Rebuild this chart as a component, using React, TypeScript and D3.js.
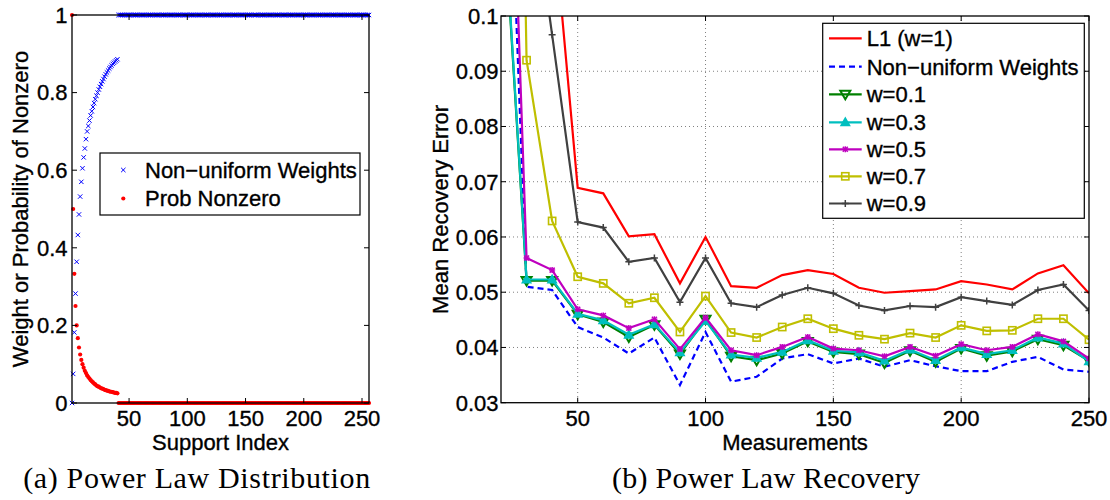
import React from "react";
import * as d3 from "d3";

// ---------- Panel (a): Power Law Distribution ----------
const supportIndexDomain = [1, 256];
const supportTicks = [50, 100, 150, 200, 250];
const probTicks = [0, 0.2, 0.4, 0.6, 0.8, 1];

const probNonzeroHead = [
  1, 0.5, 0.333, 0.25, 0.2, 0.167, 0.143, 0.125, 0.111, 0.1,
  0.091, 0.083, 0.077, 0.071, 0.067, 0.063, 0.059, 0.056, 0.053, 0.05,
  0.048, 0.045, 0.043, 0.042, 0.04, 0.038, 0.037, 0.036, 0.034, 0.033,
  0.032, 0.031, 0.03, 0.029, 0.029, 0.028, 0.027, 0.026, 0.026, 0.025,
];
const probNonzeroTail = [
  0,0,0,0,0,0,0,0, 0,0,0,0,0,0,0,0, 0,0,0,0,0,0,0,0,
  0,0,0,0,0,0,0,0, 0,0,0,0,0,0,0,0, 0,0,0,0,0,0,0,0,
  0,0,0,0,0,0,0,0, 0,0,0,0,0,0,0,0, 0,0,0,0,0,0,0,0,
  0,0,0,0,0,0,0,0, 0,0,0,0,0,0,0,0, 0,0,0,0,0,0,0,0,
  0,0,0,0,0,0,0,0, 0,0,0,0,0,0,0,0, 0,0,0,0,0,0,0,0,
  0,0,0,0,0,0,0,0, 0,0,0,0,0,0,0,0, 0,0,0,0,0,0,0,0,
  0,0,0,0,0,0,0,0, 0,0,0,0,0,0,0,0, 0,0,0,0,0,0,0,0,
  0,0,0,0,0,0,0,0, 0,0,0,0,0,0,0,0, 0,0,0,0,0,0,0,0,
  0,0,0,0,0,0,0,0, 0,0,0,0,0,0,0,0, 0,0,0,0,0,0,0,0,
];
const weightsHead = [
  0, 0.075, 0.182, 0.282, 0.364, 0.433, 0.486, 0.532, 0.57, 0.605,
  0.633, 0.656, 0.68, 0.7, 0.714, 0.728, 0.741, 0.752, 0.763, 0.773,
  0.783, 0.792, 0.8, 0.808, 0.815, 0.822, 0.829, 0.835, 0.841, 0.847,
  0.852, 0.857, 0.862, 0.866, 0.87, 0.874, 0.877, 0.88, 0.883, 0.886,
];
const weightsTail = [
  1,1,1,1,1,1,1,1, 1,1,1,1,1,1,1,1, 1,1,1,1,1,1,1,1,
  1,1,1,1,1,1,1,1, 1,1,1,1,1,1,1,1, 1,1,1,1,1,1,1,1,
  1,1,1,1,1,1,1,1, 1,1,1,1,1,1,1,1, 1,1,1,1,1,1,1,1,
  1,1,1,1,1,1,1,1, 1,1,1,1,1,1,1,1, 1,1,1,1,1,1,1,1,
  1,1,1,1,1,1,1,1, 1,1,1,1,1,1,1,1, 1,1,1,1,1,1,1,1,
  1,1,1,1,1,1,1,1, 1,1,1,1,1,1,1,1, 1,1,1,1,1,1,1,1,
  1,1,1,1,1,1,1,1, 1,1,1,1,1,1,1,1, 1,1,1,1,1,1,1,1,
  1,1,1,1,1,1,1,1, 1,1,1,1,1,1,1,1, 1,1,1,1,1,1,1,1,
  1,1,1,1,1,1,1,1, 1,1,1,1,1,1,1,1, 1,1,1,1,1,1,1,1,
];
const probNonzero = probNonzeroHead.concat(probNonzeroTail);
const nonUniformWeights = weightsHead.concat(weightsTail);

// ---------- Panel (b): Power Law Recovery ----------
const measurements = [20, 30, 40, 50, 60, 70, 80, 90, 100, 110, 120, 130, 140, 150, 160, 170, 180, 190, 200, 210, 220, 230, 240, 250];
const measTicks = [50, 100, 150, 200, 250];
const errTicks = [0.03, 0.04, 0.05, 0.06, 0.07, 0.08, 0.09, 0.1];
const errTickLabels = ["0.03", "0.04", "0.05", "0.06", "0.07", "0.08", "0.09", "0.1"];

const l1Err = [0.2, 0.16, 0.12, 0.0689, 0.0679, 0.0601, 0.0605, 0.0516, 0.06, 0.0511, 0.0508, 0.0531, 0.054, 0.0533, 0.0508, 0.0499, 0.0502, 0.0505, 0.052, 0.0514, 0.0505, 0.0534, 0.0549, 0.0498];
const nonUniformErr = [0.172, 0.051, 0.0504, 0.0437, 0.0418, 0.0389, 0.0418, 0.0332, 0.0428, 0.0338, 0.0347, 0.038, 0.0388, 0.0371, 0.038, 0.0365, 0.0377, 0.0366, 0.0357, 0.0357, 0.0374, 0.0383, 0.036, 0.0356];
const w01Err = [0.127, 0.0521, 0.0521, 0.046, 0.0446, 0.0419, 0.0441, 0.0388, 0.0451, 0.0384, 0.0377, 0.0389, 0.0411, 0.0392, 0.0388, 0.0372, 0.0394, 0.0374, 0.0398, 0.0385, 0.0393, 0.0415, 0.0404, 0.0376];
const w03Err = [0.128, 0.0523, 0.0523, 0.0461, 0.0449, 0.0423, 0.0442, 0.0391, 0.0448, 0.0387, 0.0381, 0.0392, 0.0413, 0.0394, 0.0391, 0.0376, 0.0396, 0.0377, 0.04, 0.0388, 0.0395, 0.0418, 0.0407, 0.0375];
const w05Err = [0.19, 0.0562, 0.054, 0.0469, 0.0458, 0.0435, 0.0451, 0.0397, 0.0454, 0.0395, 0.0386, 0.0401, 0.0419, 0.0398, 0.0395, 0.0384, 0.0401, 0.0385, 0.0406, 0.0395, 0.0401, 0.0424, 0.0411, 0.038];
const w07Err = [0.35, 0.092, 0.0629, 0.0528, 0.0516, 0.048, 0.049, 0.0428, 0.0493, 0.0427, 0.0418, 0.0437, 0.0452, 0.0434, 0.0422, 0.0415, 0.0426, 0.0418, 0.044, 0.043, 0.0431, 0.0452, 0.0452, 0.0414];
const w09Err = [0.16, 0.13, 0.0966, 0.0627, 0.0617, 0.0555, 0.0562, 0.0482, 0.0562, 0.048, 0.0473, 0.0495, 0.0508, 0.0498, 0.0476, 0.0467, 0.0475, 0.0473, 0.0491, 0.0484, 0.0477, 0.0504, 0.0514, 0.0467];

const seriesNames = ["L1 (w=1)", "Non\u2212uniform Weights", "w=0.1", "w=0.3", "w=0.5", "w=0.7", "w=0.9"];

type MarkerType = "none" | "triDown" | "triUp" | "star" | "square" | "plus";
const seriesStyles: { color: string; dash?: string; marker: MarkerType }[] = [
  { color: "#ff0000", marker: "none" },
  { color: "#0000ff", dash: "6,4", marker: "none" },
  { color: "#008000", marker: "triDown" },
  { color: "#00bfbf", marker: "triUp" },
  { color: "#bf00bf", marker: "star" },
  { color: "#bfbf00", marker: "square" },
  { color: "#404040", marker: "plus" },
];
const seriesValues = [l1Err, nonUniformErr, w01Err, w03Err, w05Err, w07Err, w09Err];

const FONT = "'Liberation Sans', Arial, Helvetica, sans-serif";
const SERIF = "'Liberation Serif', 'Times New Roman', serif";

function Marker({ type, x, y, color }: { type: MarkerType; x: number; y: number; color: string }) {
  switch (type) {
    case "triDown":
      return <polygon points={`${x - 5},${y - 3.5} ${x + 5},${y - 3.5} ${x},${y + 5}`} fill="none" stroke={color} strokeWidth={2} strokeLinejoin="miter" />;
    case "triUp":
      return <polygon points={`${x - 4},${y + 3} ${x + 4},${y + 3} ${x},${y - 4}`} fill={color} stroke={color} strokeWidth={1.8} />;
    case "star":
      return (
        <g stroke={color} strokeWidth={1.5}>
          <line x1={x - 2.5} y1={y - 2.5} x2={x + 2.5} y2={y + 2.5} />
          <line x1={x - 2.5} y1={y + 2.5} x2={x + 2.5} y2={y - 2.5} />
          <line x1={x - 3} y1={y} x2={x + 3} y2={y} />
          <line x1={x} y1={y - 3} x2={x} y2={y + 3} />
        </g>
      );
    case "square":
      return <rect x={x - 3.6} y={y - 3.6} width={7.2} height={7.2} fill="none" stroke={color} strokeWidth={1.6} />;
    case "plus":
      return (
        <g stroke={color} strokeWidth={1.5}>
          <line x1={x - 3.5} y1={y} x2={x + 3.5} y2={y} />
          <line x1={x} y1={y - 3.5} x2={x} y2={y + 3.5} />
        </g>
      );
    default:
      return null;
  }
}

const textStroke = { stroke: "#000", strokeWidth: 0.35 };

export default function App() {
  // Panel (a) scales
  const xL = d3.scaleLinear().domain(supportIndexDomain).range([72, 369]);
  const yL = d3.scaleLinear().domain([0, 1]).range([403, 15]);
  // Panel (b) scales
  const xR = d3.scaleLinear().domain([20, 250]).range([501, 1089]);
  const yR = d3.scaleLinear().domain([0.03, 0.1]).range([402.7, 16]);

  const line = d3
    .line<number>()
    .x((_, i) => xR(measurements[i]))
    .y((d) => yR(d));

  const tickLen = 5;
  const [lx0, lx1] = xL.range();
  const [ly0, ly1] = yL.range();
  const [rx0, rx1] = xR.range();
  const [ry0, ry1] = yR.range();

  const legendRows = [38.3, 66.7, 94.3, 122.3, 149.3, 176.3, 203.5];
  const tickLabelY = 425.5;
  const axisTitleY = 449.5;

  return (
    <svg width={1110} height={500} style={{ position: "absolute", left: 0, top: 0, background: "#fff" }} fontFamily={FONT}>
      <rect x={0} y={0} width={1110} height={500} fill="#fff" />
      <defs>
        <clipPath id="clipR">
          <rect x={rx0} y={ry1} width={rx1 - rx0} height={ry0 - ry1} />
        </clipPath>
      </defs>

      {/* ===== Panel (a) ===== */}
      <g>
        {probNonzero.map((v, i) => (
          <circle key={"p" + i} cx={xL(i + 1)} cy={yL(v)} r={2.1} fill="#ff0000" />
        ))}
        {nonUniformWeights.map((v, i) => {
          const cx = xL(i + 1);
          const cy = yL(v);
          return (
            <g key={"w" + i} stroke="#0000ff" strokeWidth={1}>
              <line x1={cx - 2.2} y1={cy - 2.2} x2={cx + 2.2} y2={cy + 2.2} />
              <line x1={cx - 2.2} y1={cy + 2.2} x2={cx + 2.2} y2={cy - 2.2} />
            </g>
          );
        })}
        <rect x={lx0} y={ly1} width={lx1 - lx0} height={ly0 - ly1} fill="none" stroke="#000" strokeWidth={1.3} />
        {supportTicks.map((t) => (
          <g key={"xt" + t} stroke="#000" strokeWidth={1}>
            <line x1={xL(t)} x2={xL(t)} y1={ly0} y2={ly0 - tickLen} />
            <line x1={xL(t)} x2={xL(t)} y1={ly1} y2={ly1 + tickLen} />
          </g>
        ))}
        {probTicks.map((t) => (
          <g key={"yt" + t} stroke="#000" strokeWidth={1}>
            <line x1={lx0} x2={lx0 + tickLen} y1={yL(t)} y2={yL(t)} />
            <line x1={lx1} x2={lx1 - tickLen} y1={yL(t)} y2={yL(t)} />
          </g>
        ))}
        <g {...textStroke} fill="#000" fontSize={22}>
          {supportTicks.map((t) => (
            <text key={"xl" + t} x={xL(t)} y={tickLabelY} textAnchor="middle">
              {t}
            </text>
          ))}
          {probTicks.map((t) => (
            <text key={"yl" + t} x={67.5} y={yL(t) + 7.8} textAnchor="end">
              {String(t)}
            </text>
          ))}
          <text x={(lx0 + lx1) / 2} y={axisTitleY} textAnchor="middle">
            Support Index
          </text>
          <text transform={`translate(28,${(ly0 + ly1) / 2}) rotate(-90)`} textAnchor="middle">
            Weight or Probability of Nonzero
          </text>
        </g>
        {/* legend */}
        <rect x={100} y={153} width={260} height={62} fill="#fff" stroke="#000" strokeWidth={1.2} />
        <g stroke="#0000ff" strokeWidth={1}>
          <line x1={123.3 - 2.2} y1={170 - 2.2} x2={123.3 + 2.2} y2={170 + 2.2} />
          <line x1={123.3 - 2.2} y1={170 + 2.2} x2={123.3 + 2.2} y2={170 - 2.2} />
        </g>
        <circle cx={123.3} cy={198.5} r={2.1} fill="#ff0000" />
        <g {...textStroke} fill="#000" fontSize={22}>
          <text x={145} y={170 + 7.8}>
            {"Non\u2212uniform Weights"}
          </text>
          <text x={145} y={198.5 + 7.8}>
            Prob Nonzero
          </text>
        </g>
        <text x={196.7} y={488} fontSize={30} fontFamily={SERIF} textAnchor="middle" textLength={347} fill="#000">
          (a) Power Law Distribution
        </text>
      </g>

      {/* ===== Panel (b) ===== */}
      <g>
        {measTicks.slice(0, -1).map((t) => (
          <line key={"gx" + t} x1={xR(t)} x2={xR(t)} y1={ry1} y2={ry0} stroke="#808080" strokeWidth={1} strokeDasharray="1,3" />
        ))}
        {errTicks.slice(1, -1).map((t) => (
          <line key={"gy" + t} x1={rx0} x2={rx1} y1={yR(t)} y2={yR(t)} stroke="#808080" strokeWidth={1} strokeDasharray="1,3" />
        ))}
        <g clipPath="url(#clipR)">
          {seriesValues.map((vals, si) => {
            const st = seriesStyles[si];
            return (
              <g key={"s" + si}>
                <path d={line(vals) || ""} fill="none" stroke={st.color} strokeWidth={2.2} strokeDasharray={st.dash} strokeLinejoin="miter" />
                {st.marker !== "none" &&
                  vals.map((v, i) => <Marker key={i} type={st.marker} x={xR(measurements[i])} y={yR(v)} color={st.color} />)}
              </g>
            );
          })}
        </g>
        <rect x={rx0} y={ry1} width={rx1 - rx0} height={ry0 - ry1} fill="none" stroke="#000" strokeWidth={1.3} />
        {measTicks.map((t) => (
          <g key={"rxt" + t} stroke="#000" strokeWidth={1}>
            <line x1={xR(t)} x2={xR(t)} y1={ry0} y2={ry0 - tickLen} />
            <line x1={xR(t)} x2={xR(t)} y1={ry1} y2={ry1 + tickLen} />
          </g>
        ))}
        {errTicks.map((t) => (
          <g key={"ryt" + t} stroke="#000" strokeWidth={1}>
            <line x1={rx0} x2={rx0 + tickLen} y1={yR(t)} y2={yR(t)} />
            <line x1={rx1} x2={rx1 - tickLen} y1={yR(t)} y2={yR(t)} />
          </g>
        ))}
        <g {...textStroke} fill="#000" fontSize={22}>
          {measTicks.map((t) => (
            <text key={"rxl" + t} x={xR(t)} y={tickLabelY} textAnchor="middle">
              {t}
            </text>
          ))}
          {errTicks.map((t, i) => (
            <text key={"ryl" + t} x={498.5} y={yR(t) + 7.8} textAnchor="end">
              {errTickLabels[i]}
            </text>
          ))}
          <text x={(rx0 + rx1) / 2} y={axisTitleY} textAnchor="middle">
            Measurements
          </text>
          <text transform={`translate(447.5,${(ry0 + ry1) / 2}) rotate(-90)`} textAnchor="middle">
            Mean Recovery Error
          </text>
        </g>
        {/* legend */}
        <rect x={822.7} y={23.3} width={261.6} height={195} fill="#fff" stroke="#000" strokeWidth={1.2} />
        {seriesNames.map((name, i) => {
          const st = seriesStyles[i];
          const y = legendRows[i];
          return (
            <g key={"lg" + i}>
              <line x1={829} x2={861.7} y1={y} y2={y} stroke={st.color} strokeWidth={2.2} strokeDasharray={st.dash} />
              {st.marker !== "none" && <Marker type={st.marker} x={845.3} y={y} color={st.color} />}
              <text x={866.7} y={y + 7.8} fontSize={22} fill="#000" {...textStroke}>
                {name}
              </text>
            </g>
          );
        })}
        <text x={765.9} y={488} fontSize={30} fontFamily={SERIF} textAnchor="middle" textLength={308} fill="#000">
          (b) Power Law Recovery
        </text>
      </g>
    </svg>
  );
}
